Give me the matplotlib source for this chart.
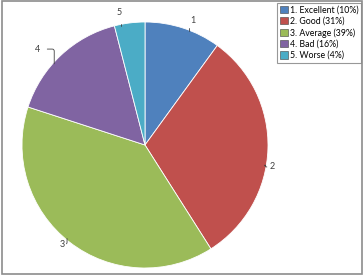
import numpy as np
import matplotlib.pyplot as plt
from matplotlib.patches import Rectangle

# data
labels = ["1", "2", "3", "4", "5"]
legend_labels = ["1. Excellent (10%)", "2. Good (31%)", "3. Average (39%)",
                 "4. Bad (16%)", "5. Worse (4%)"]
values = [10, 31, 39, 16, 4]
colors = ["#4F81BD", "#C0504D", "#9BBB59", "#8064A2", "#4BACC6"]

# label placement (angle shift from wedge middle in degrees, radial distance)
label_shift = [-3, -8, -2, 5, 4]
label_dist = [1.08, 1.05, 1.05, 1.17, 1.10]

plt.rcParams['font.family'] = ['Lato', 'DejaVu Sans']

fig = plt.figure(figsize=(3.64, 2.80), dpi=100)
ax = fig.add_axes([22 / 364, 12 / 280, 246 / 364, 246 / 280])

wedges, _ = ax.pie(values, colors=colors, startangle=90, counterclock=False,
                   wedgeprops=dict(edgecolor="white", linewidth=0.6))
ax.set_aspect("equal")
ax.set_xlim(-1, 1)
ax.set_ylim(-1, 1)

# data labels with short elbow leader lines
for w, lab, sh, d in zip(wedges, labels, label_shift, label_dist):
    ang = np.deg2rad((w.theta1 + w.theta2) / 2 + sh)
    x, y = np.cos(ang), np.sin(ang)
    ax.annotate(lab, xy=(0.99 * x, 0.99 * y), xytext=(d * x, d * y),
                ha="center", va="center", fontsize=6.5, color="#404040",
                arrowprops=dict(arrowstyle="-", color="#404040", lw=0.6,
                                shrinkA=3, shrinkB=0,
                                connectionstyle="angle,angleA=0,angleB=90,rad=2"),
                annotation_clip=False)

leg = fig.legend(wedges, legend_labels, loc="upper left",
                 bbox_to_anchor=(277 / 364, 1 - 3 / 280), fontsize=6.3,
                 frameon=True, fancybox=False, handlelength=0.9,
                 handleheight=0.9, handletextpad=0.3, labelspacing=0.25,
                 borderpad=0.3, borderaxespad=0)
leg.get_frame().set_edgecolor("#7f7f7f")
leg.get_frame().set_linewidth(0.8)
for h in leg.legend_handles:
    h.set_edgecolor("#404040")
    h.set_linewidth(0.4)

fig.patches.append(Rectangle((2 / 364, 6 / 280), 360 / 364, 273 / 280,
                             transform=fig.transFigure, fill=False,
                             edgecolor="#8c8c8c", linewidth=1.2))

fig.savefig("out.png", dpi=100)
